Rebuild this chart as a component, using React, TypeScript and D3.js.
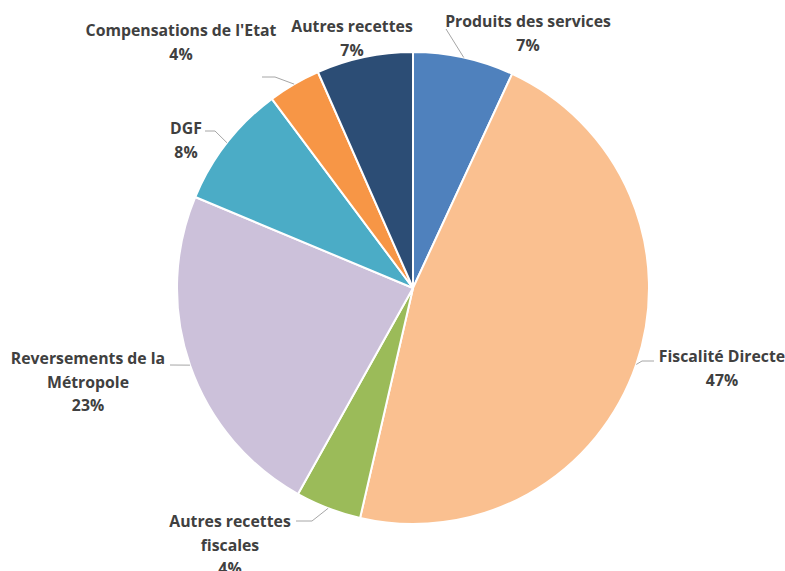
import React from "react";
import * as d3 from "d3";

const categories = [
  "Produits des services",
  "Fiscalité Directe",
  "Autres recettes fiscales",
  "Reversements de la Métropole",
  "DGF",
  "Compensations de l'Etat",
  "Autres recettes",
];
const values = [6.9, 46.7, 4.5, 23.2, 8.5, 3.6, 6.6];
const percentLabels = ["7%", "47%", "4%", "23%", "8%", "4%", "7%"];
const labelLines = [
  ["Produits des services"],
  ["Fiscalité Directe"],
  ["Autres recettes", "fiscales"],
  ["Reversements de la", "Métropole"],
  ["DGF"],
  ["Compensations de l'Etat"],
  ["Autres recettes"],
];
const colors = ["#4F81BD", "#FAC090", "#9BBB59", "#CCC1DA", "#4BACC6", "#F79646", "#2C4D75"];

// layout: label centre x, first baseline y, leader path (bend/end points) or null
const labelLayout = [
  { x: 528, y: 27, leader: [[446, 29]] },
  { x: 722, y: 362, leader: [[642, 361], [654, 361]] },
  { x: 230, y: 527, leader: [[312, 521], [296, 521]] },
  { x: 88, y: 364, leader: [[170, 365]] },
  { x: 186, y: 134, leader: [[215, 131], [205, 131]] },
  { x: 181, y: 36, leader: [[275, 77], [262, 77]] },
  { x: 352, y: 32, leader: null as number[][] | null },
];

const W = 785;
const H = 571;
const cx = 413;
const cy = 288;
const R = 236;

export default function App() {
  const pie = d3.pie<number>().sort(null).value((d) => d).startAngle(0).endAngle(2 * Math.PI);
  const arcs = pie(values);
  const arcGen = d3.arc<d3.PieArcDatum<number>>().innerRadius(0).outerRadius(R);
  return (
    <svg width={W} height={H} style={{ position: "absolute", left: 0, top: 0, background: "#fff" }}>
      <g transform={`translate(${cx},${cy})`}>
        {arcs.map((a, i) => (
          <path key={i} d={arcGen(a) || ""} fill={colors[i]} stroke="#fff" strokeWidth={2} strokeLinejoin="round" />
        ))}
      </g>
      {arcs.map((a, i) => {
        const lay = labelLayout[i];
        if (!lay.leader) return null;
        const mid = (a.startAngle + a.endAngle) / 2;
        const sx = cx + R * Math.sin(mid);
        const sy = cy - R * Math.cos(mid);
        const pts = [[sx, sy], ...lay.leader];
        return (
          <polyline
            key={"l" + i}
            points={pts.map((p) => p.join(",")).join(" ")}
            fill="none"
            stroke="#A6A6A6"
            strokeWidth={1}
          />
        );
      })}
      {categories.map((c, i) => {
        const lay = labelLayout[i];
        const lines = [...labelLines[i], percentLabels[i]];
        return (
          <text
            key={"t" + i}
            x={lay.x}
            y={lay.y}
            textAnchor="middle"
            fontFamily="'Open Sans', sans-serif"
            fontWeight={700}
            fontSize={15.8}
            fill="#404040"
          >
            {lines.map((ln, j) => (
              <tspan key={j} x={lay.x} dy={j === 0 ? 0 : 23.5}>
                {ln}
              </tspan>
            ))}
          </text>
        );
      })}
    </svg>
  );
}
